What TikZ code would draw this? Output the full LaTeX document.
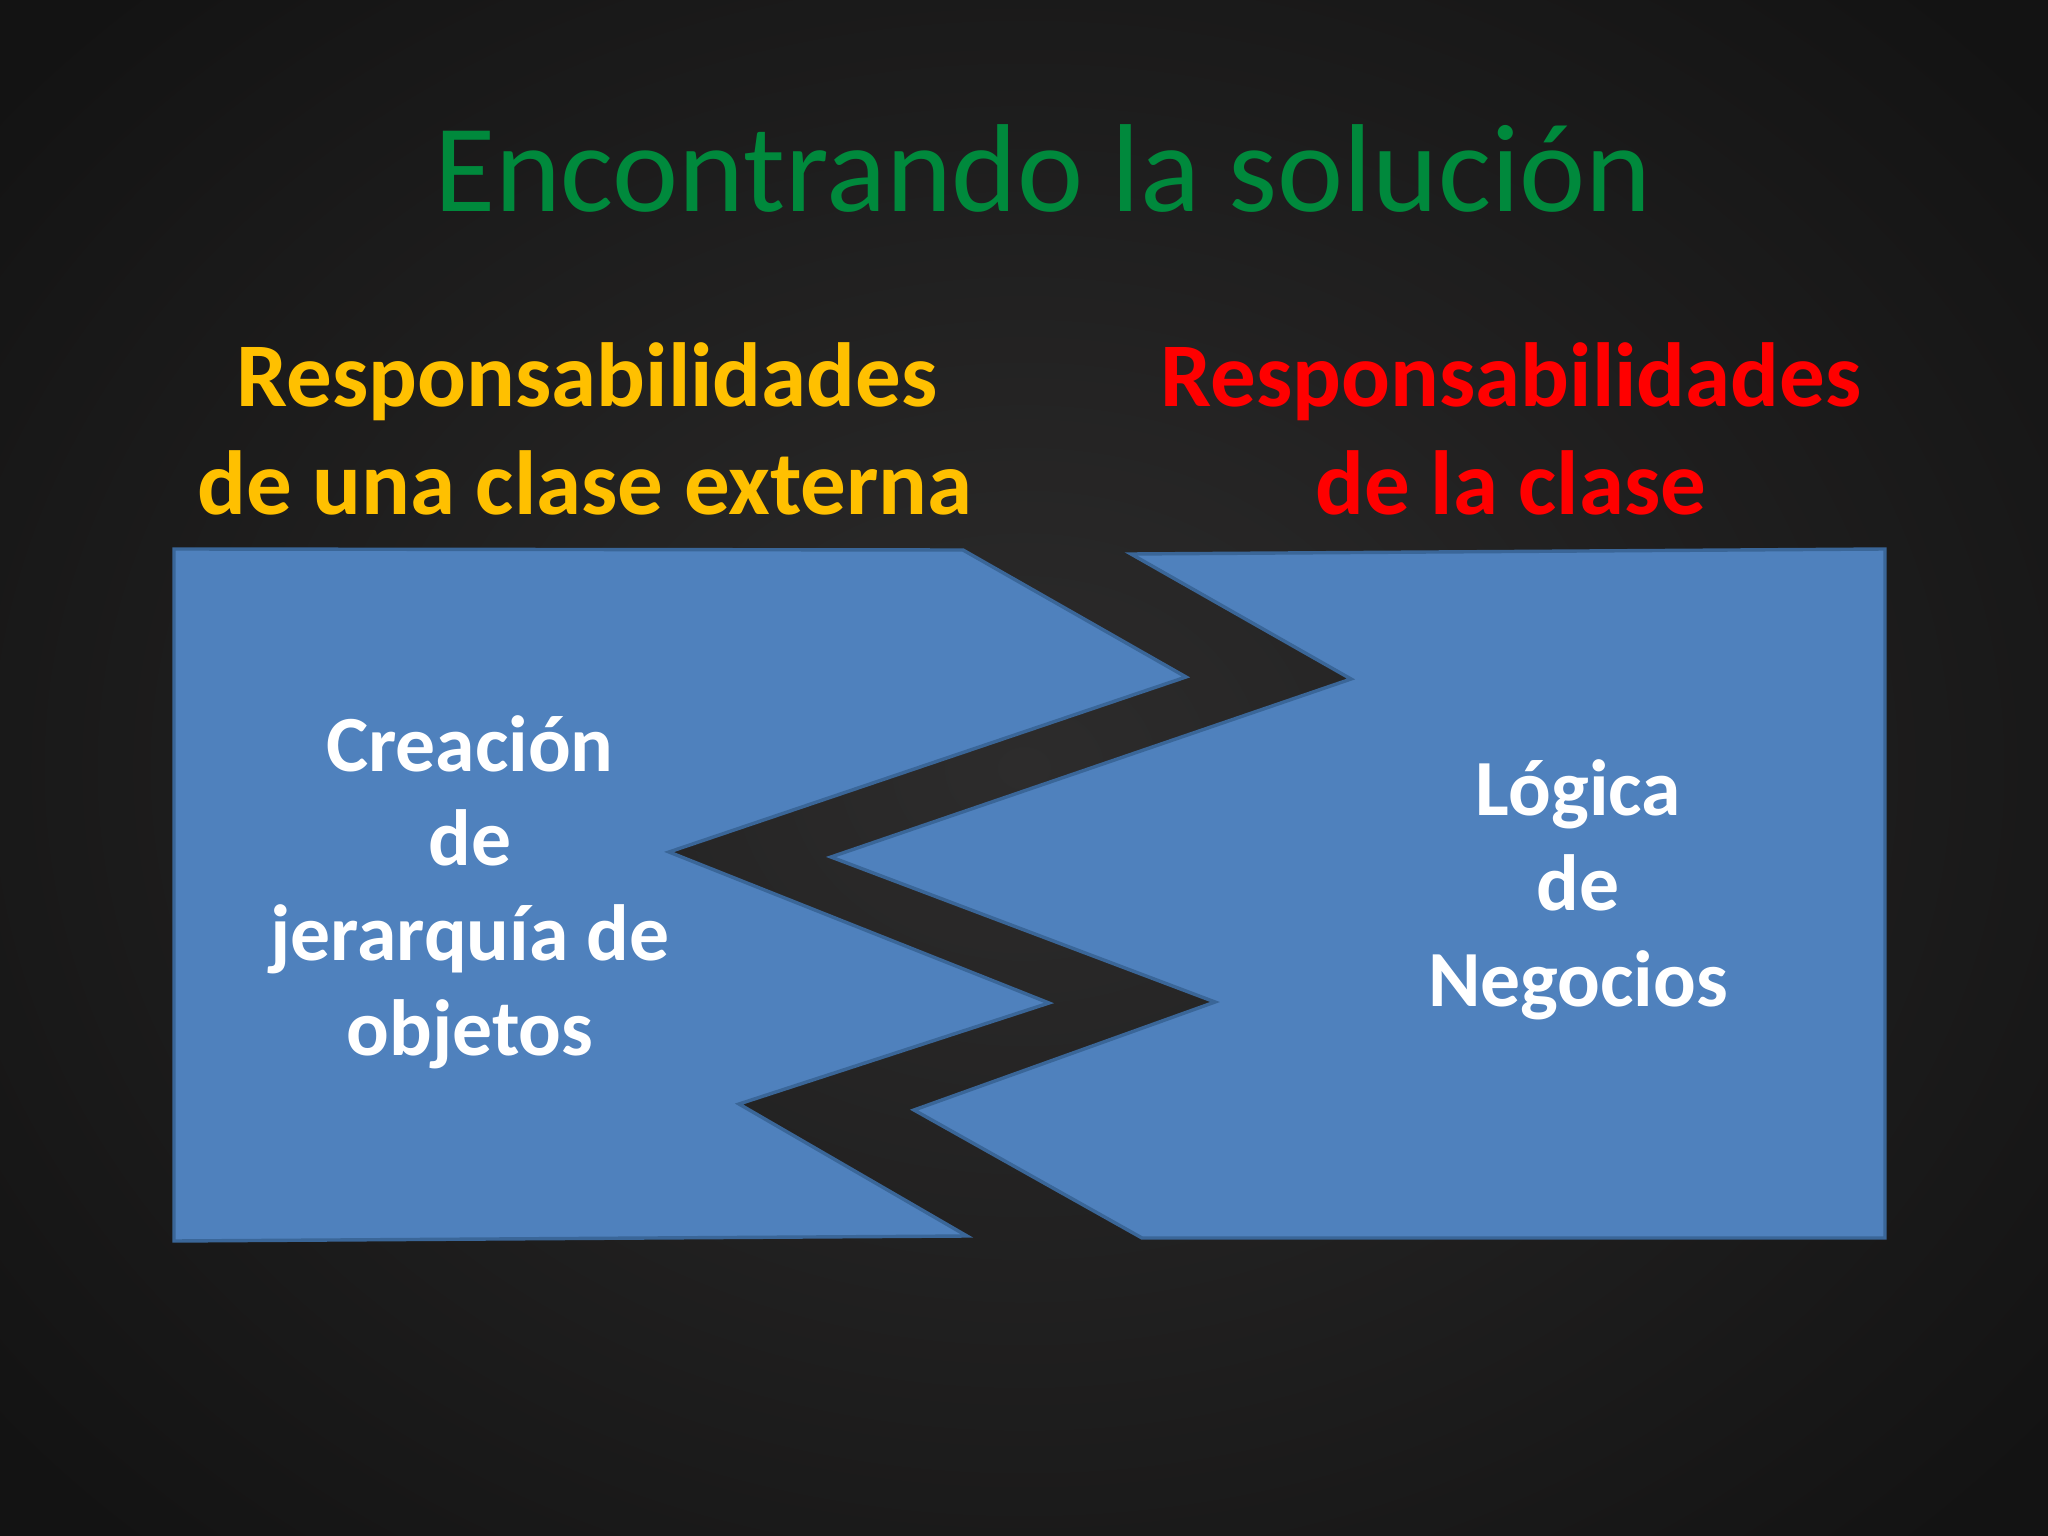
\documentclass[tikz,border=0pt]{standalone}
\usepackage{fontspec}
\setmainfont{Carlito}
\definecolor{bgin}{HTML}{2D2C2C}
\definecolor{bgout}{HTML}{131313}
\definecolor{piecefill}{HTML}{4F81BD}
\definecolor{pieceline}{HTML}{3A6698}
\definecolor{titlegreen}{HTML}{00893C}
\definecolor{headyellow}{HTML}{FFC000}
\definecolor{headred}{HTML}{FF0000}
\tikzset{
  piece/.style={fill=piecefill, draw=pieceline, line width=1.2pt, line join=miter},
  titletext/.style={text=titlegreen, font=\fontsize{44}{52.8}\selectfont, anchor=base, inner sep=0pt},
  headtext/.style={font=\bfseries\fontsize{32}{38.4}\selectfont, anchor=base, inner sep=0pt},
  boxtext/.style={text=white, font=\bfseries\fontsize{28}{33.6}\selectfont, anchor=base, inner sep=0pt}
}
\begin{document}
\begin{tikzpicture}[x=0.3515625pt,y=-0.3515625pt]
\useasboundingbox (0,0) rectangle (2048,1536);
\shade[inner color=bgin, outer color=bgout] (-300,-300) rectangle (2348,1836);
% title
\node[titletext] (title) at (1043,212) {Encontrando la solución};
% headings
\node[headtext, text=headyellow] (lh1) at (587,407) {Responsabilidades};
\node[headtext, text=headyellow] (lh2) at (585,515) {de una clase externa};
\node[headtext, text=headred] (rh1) at (1511,407) {Responsabilidades};
\node[headtext, text=headred] (rh2) at (1511,515) {de la clase};
% pieces
\draw[piece] (174,549) -- (963,550) -- (1186,677) -- (669,852) -- (1049,1003) -- (739,1104) -- (967,1236) -- (174,1241) -- cycle;
\draw[piece] (1131,554) -- (1885,549) -- (1885,1238) -- (1142,1238) -- (914,1110) -- (1215,1002) -- (831,857) -- (1351,679) -- cycle;
% box texts
\node[boxtext] (l1) at (470,771) {Creación};
\node[boxtext] (l2) at (470,865) {de};
\node[boxtext] (l3) at (470,960) {jerarquía de};
\node[boxtext] (l4) at (470,1055) {objetos};
\node[boxtext] (r1) at (1578,815) {Lógica};
\node[boxtext] (r2) at (1578,910) {de};
\node[boxtext] (r3) at (1578,1006) {Negocios};
\end{tikzpicture}
\end{document}
